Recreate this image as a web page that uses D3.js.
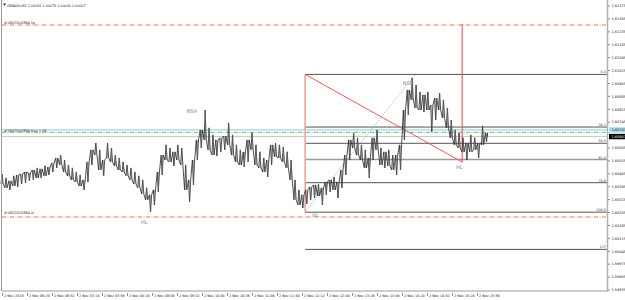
<!DOCTYPE html>
<html><head><meta charset="utf-8">
<script src="https://cdn.jsdelivr.net/npm/d3@7"></script>
<style>body{margin:0;background:#fff}svg{display:block}text{font-family:"DejaVu Sans",sans-serif}</style>
</head><body><svg id="c" width="625" height="300"></svg>
<script>
// ---------- DATA ----------
const title = "GBPAUD,M1  1.60641 1.60679 1.60640 1.60667";
const startTime = "2016-11-02T05:48";
const stepMinutes = 5;
const highs = [1.60464,1.60443,1.60427,1.60454,1.60459,1.60464,1.60475,1.60470,1.60486,1.60497,
1.60492,1.60508,1.60502,1.60524,1.60551,1.60567,1.60540,1.60513,1.60497,1.60475,
1.60459,1.60432,1.60530,1.60595,1.60632,1.60595,1.60540,1.60632,1.60605,1.60567,
1.60551,1.60530,1.60513,1.60497,1.60475,1.60454,1.60432,1.60389,1.60351,1.60378,
1.60475,1.60567,1.60622,1.60605,1.60584,1.60622,1.60605,1.60513,1.60432,1.60540,
1.60649,1.60703,1.60811,1.60714,1.60676,1.60649,1.60660,1.60670,1.60741,1.60676,
1.60622,1.60595,1.60584,1.60649,1.60687,1.60622,1.60584,1.60551,1.60540,1.60622,
1.60632,1.60622,1.60611,1.60584,1.60540,1.60432,1.60378,1.60351,1.60378,1.60394,
1.60405,1.60410,1.60389,1.60421,1.60432,1.60448,1.60421,1.60486,1.60567,1.60649,
1.60687,1.60660,1.60622,1.60595,1.60551,1.60660,1.60703,1.60605,1.60584,1.60595,
1.60567,1.60567,1.60622,1.60811,1.60920,1.60985,1.60947,1.60909,1.60893,1.60909,
1.60838,1.60876,1.60903,1.60866,1.60822,1.60757,1.60703,1.60687,1.60660,1.60632,
1.60676,1.60660,1.60632,1.60725,1.60687];
const lows = [1.60410,1.60389,1.60378,1.60399,1.60394,1.60410,1.60416,1.60427,1.60432,1.60443,
1.60443,1.60454,1.60459,1.60475,1.60497,1.60513,1.60475,1.60454,1.60432,1.60421,
1.60399,1.60378,1.60421,1.60513,1.60567,1.60486,1.60454,1.60551,1.60530,1.60508,
1.60486,1.60475,1.60454,1.60432,1.60410,1.60389,1.60356,1.60324,1.60258,1.60296,
1.60367,1.60459,1.60540,1.60530,1.60508,1.60540,1.60513,1.60378,1.60313,1.60405,
1.60540,1.60605,1.60649,1.60595,1.60567,1.60562,1.60584,1.60595,1.60622,1.60567,
1.60530,1.60513,1.60502,1.60530,1.60595,1.60513,1.60497,1.60475,1.60448,1.60513,
1.60557,1.60551,1.60530,1.60497,1.60432,1.60324,1.60296,1.60280,1.60302,1.60324,
1.60334,1.60345,1.60296,1.60351,1.60367,1.60378,1.60334,1.60389,1.60459,1.60540,
1.60605,1.60567,1.60540,1.60497,1.60443,1.60540,1.60595,1.60513,1.60497,1.60508,
1.60486,1.60459,1.60486,1.60649,1.60784,1.60866,1.60822,1.60811,1.60800,1.60811,
1.60692,1.60757,1.60811,1.60768,1.60714,1.60660,1.60622,1.60605,1.60584,1.60540,
1.60584,1.60595,1.60551,1.60622,1.60638];
const lastClose = 1.60667;
const askPrice = 1.60703;
const priceDomain = [1.59835, 1.61375];
const priceTicks = [1.61375,1.61305,1.61235,1.61165,1.61095,1.61025,1.60955,1.60885,1.60815,1.60745,
1.60605,1.60535,1.60465,1.60395,1.60325,1.60255,1.60185,1.60115,1.60045,1.59975,1.59905,1.59835];
const timeTicks = ["2016-11-02T05:48","2016-11-02T06:20","2016-11-02T06:52","2016-11-02T07:24","2016-11-02T07:56",
"2016-11-02T08:28","2016-11-02T09:00","2016-11-02T09:32","2016-11-02T10:04","2016-11-02T10:36","2016-11-02T11:08",
"2016-11-02T11:40","2016-11-02T12:12","2016-11-02T12:44","2016-11-02T13:16","2016-11-02T13:48","2016-11-02T14:20",
"2016-11-02T14:52","2016-11-02T15:24","2016-11-02T15:56"];
const timeTickLabels = ["2 Nov 2016","2 Nov 06:20","2 Nov 06:52","2 Nov 07:24","2 Nov 07:56","2 Nov 08:28",
"2 Nov 09:00","2 Nov 09:32","2 Nov 10:04","2 Nov 10:36","2 Nov 11:08","2 Nov 11:40","2 Nov 12:12","2 Nov 12:44",
"2 Nov 13:16","2 Nov 13:48","2 Nov 14:20","2 Nov 14:52","2 Nov 15:24","2 Nov 15:56"];
const orderLines = [
  {name:"tp", label:"#1602010384 tp", price:1.61272},
  {name:"open", label:"#1602010384 buy 1.00", price:1.60690},
  {name:"sl", label:"#1602010384 sl", price:1.60231}
];
const fibHigh = 1.61004, fibLow = 1.60257;
const fibStart = "2016-11-02T12:16";
const fibLevels = [0, 38.2, 50, 61.8, 78.6, 100, 127];
const fibLabels = ["0.0","38.2","50.0","61.8","78.6","100.0","127"];
const redLineEnd = {time:"2016-11-02T15:37", price:1.60529};
const redVertTop = 1.61277;
const dottedEnd = {time:"2016-11-02T14:37", price:1.61004};
const annotations = [
  {text:"NSH", time:"2016-11-02T09:44", price:1.60794},
  {text:"HL",  time:"2016-11-02T08:46", price:1.60193},
  {text:"NSH", time:"2016-11-02T14:21", price:1.60946},
  {text:"HL",  time:"2016-11-02T12:25", price:1.60231},
  {text:"HL",  time:"2016-11-02T15:29", price:1.60492}
];

// ---------- SCALES ----------
const parse = d3.timeParse("%Y-%m-%dT%H:%M");
const t0 = parse(startTime);
const tEnd = new Date(+t0 + 774.4*60000);
const x = d3.scaleTime().domain([t0, tEnd]).range([2, 607]);
const y = d3.scaleLinear().domain(priceDomain).range([290, 6]);
const svg = d3.select("#c");
const L = 2, R = 607, B = 291;

svg.append("rect").attr("x",0).attr("y",0).attr("width",625).attr("height",300).attr("fill","#fff");

// order / ask / bid lines
const ol = {tp:{c:"#f07850",d:"4,1.5,1,1.5"}, sl:{c:"#f07850",d:"4,1.5,1,1.5"}, open:{c:"#66c066",d:"4,1.5,1,1.5"}};
svg.append("line").attr("x1",L).attr("x2",R).attr("y1",y(askPrice)).attr("y2",y(askPrice))
  .attr("stroke","#8cc8e6").attr("stroke-width",1);
svg.append("line").attr("x1",L).attr("x2",R).attr("y1",y(lastClose)).attr("y2",y(lastClose))
  .attr("stroke","#c8c8c8").attr("stroke-width",1);
orderLines.forEach(o=>{
  svg.append("line").attr("x1",L).attr("x2",R).attr("y1",y(o.price)).attr("y2",y(o.price))
    .attr("stroke",ol[o.name].c).attr("stroke-width",1).attr("stroke-dasharray",ol[o.name].d);
  svg.append("text").attr("x",4).attr("y",y(o.price)-(o.name==="sl"?2.5:0.8)).attr("font-size",3.6)
    .attr("fill","#333").text(o.label);
});

// fibonacci
const fx = x(parse(fibStart));
fibLevels.forEach((lv,i)=>{
  const p = fibHigh - (fibHigh-fibLow)*lv/100;
  svg.append("line").attr("x1",fx).attr("x2",R).attr("y1",y(p)).attr("y2",y(p))
    .attr("stroke", lv===61.8?"#9a9a9a":"#555").attr("stroke-width", lv===61.8?1.4:1);
  svg.append("text").attr("x",R-1).attr("y",y(p)-1).attr("text-anchor","end").attr("font-size",3.4)
    .attr("fill","#444").text(fibLabels[i]);
});
svg.append("line").attr("x1",fx).attr("x2",fx).attr("y1",y(fibHigh)).attr("y2",y(fibLow))
  .attr("stroke","#f6a0a0").attr("stroke-width",1.6);
svg.append("line").attr("x1",fx).attr("y1",y(fibHigh))
  .attr("x2",x(parse(redLineEnd.time))).attr("y2",y(redLineEnd.price))
  .attr("stroke","#f05a5a").attr("stroke-width",1);
svg.append("line").attr("x1",x(parse(redLineEnd.time))).attr("x2",x(parse(redLineEnd.time)))
  .attr("y1",y(redVertTop)).attr("y2",y(redLineEnd.price)).attr("stroke","#f03c3c").attr("stroke-width",1);
svg.append("line").attr("x1",fx).attr("y1",y(fibLow))
  .attr("x2",x(parse(dottedEnd.time))).attr("y2",y(dottedEnd.price))
  .attr("stroke","#888").attr("stroke-width",0.8).attr("stroke-dasharray","1,1.6");

// price series
const pts = [];
highs.forEach((h,k)=>{
  const t = new Date(+t0 + k*stepMinutes*60000);
  const xx = x(t);
  const mid = (h+lows[k])/2;
  const nmid = k<highs.length-1 ? (highs[k+1]+lows[k+1])/2 : lastClose;
  if (nmid >= mid) { pts.push([xx-1, y(h)]); pts.push([xx, y(lows[k])]); pts.push([xx+1.2, y(h)]); }
  else { pts.push([xx-1, y(lows[k])]); pts.push([xx, y(h)]); pts.push([xx+1.2, y(lows[k])]); }
});
pts.push([x(new Date(+t0 + highs.length*stepMinutes*60000 - 4*60000)), y(lastClose)]);
svg.append("path").attr("d", d3.line()(pts)).attr("fill","none").attr("stroke","#303030")
  .attr("stroke-width",0.85).attr("stroke-linejoin","miter");
const g = svg.append("g");
highs.forEach((h,k)=>{
  const xx = x(new Date(+t0 + k*stepMinutes*60000));
  g.append("line").attr("x1",xx+0.3).attr("x2",xx+0.3).attr("y1",y(h)).attr("y2",y(lows[k]))
    .attr("stroke","#666").attr("stroke-width",0.7);
});

// annotations
annotations.forEach(a=>{
  svg.append("text").attr("x",x(parse(a.time))).attr("y",y(a.price)).attr("font-size",5)
    .attr("fill","#8a8a8a").text(a.text);
});

// borders
svg.append("line").attr("x1",1.5).attr("x2",1.5).attr("y1",0).attr("y2",B).attr("stroke","#9a9a9a");
svg.append("line").attr("x1",L).attr("x2",R+1).attr("y1",B).attr("y2",B).attr("stroke","#9a9a9a");
svg.append("line").attr("x1",R+0.5).attr("x2",R+0.5).attr("y1",0).attr("y2",B).attr("stroke","#b0b0b0").attr("stroke-width",1.5);

// price axis
priceTicks.forEach(p=>{
  svg.append("line").attr("x1",R+1).attr("x2",R+3).attr("y1",y(p)).attr("y2",y(p)).attr("stroke","#444").attr("stroke-width",0.6);
  svg.append("text").attr("x",R+4.5).attr("y",y(p)+1.3).attr("font-size",3.5).attr("fill","#222").text(p.toFixed(5));
});
svg.append("rect").attr("x",R+2).attr("y",y(askPrice)-2.7).attr("width",18).attr("height",5.4).attr("fill","#a9daee");
svg.append("text").attr("x",R+4.5).attr("y",y(askPrice)+1.3).attr("font-size",3.5).attr("fill","#222").text(askPrice.toFixed(5));
svg.append("rect").attr("x",R+2).attr("y",y(lastClose)-2.7).attr("width",18).attr("height",5.4).attr("fill","#000");
svg.append("text").attr("x",R+4.5).attr("y",y(lastClose)+1.3).attr("font-size",3.5).attr("fill","#fff").text(lastClose.toFixed(5));

// time axis
timeTicks.forEach((s,i)=>{
  const xx = x(parse(s));
  svg.append("line").attr("x1",xx+0.5).attr("x2",xx+0.5).attr("y1",B+2).attr("y2",B+5).attr("stroke","#444").attr("stroke-width",0.6);
  svg.append("text").attr("x",xx+2).attr("y",B+6.2).attr("font-size",3.4).attr("fill","#222").text(timeTickLabels[i]);
});

// title
svg.append("path").attr("d","M3,3.5L6,3.5L4.5,6Z").attr("fill","#333");
svg.append("text").attr("x",7).attr("y",6.5).attr("font-size",3.3).attr("fill","#222").text(title);
</script></body></html>
